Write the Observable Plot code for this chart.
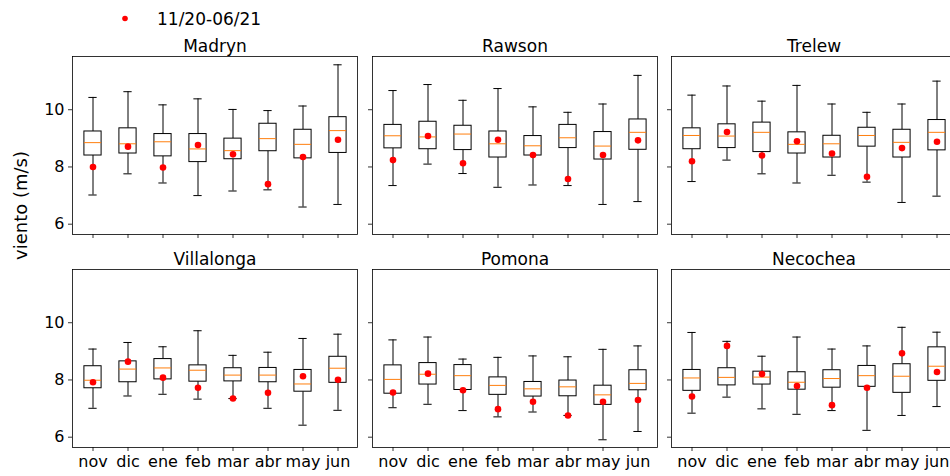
<!DOCTYPE html>
<html><head><meta charset="utf-8">
<script src="https://cdn.jsdelivr.net/npm/d3@7"></script>
<script src="https://cdn.jsdelivr.net/npm/@observablehq/plot@0.6"></script>
<style>
html,body{margin:0;padding:0;background:#fff;overflow:hidden;width:950px;height:476px;}
#root{position:relative;width:950px;height:476px;overflow:hidden;font-family:"DejaVu Sans";}
.panel{position:absolute;}
.panel svg{overflow:visible;max-width:none !important;}
</style></head><body><div id="root"></div>
<script>
const months = ["nov","dic","ene","feb","mar","abr","may","jun"];
const stations = ["Madryn","Rawson","Trelew","Villalonga","Pomona","Necochea"];
const yTicks = [6, 8, 10];
const legendLabel = "11/20-06/21";
const yLabel = "viento (m/s)";

const whiskerHigh = [
  [10.43,10.63,10.17,10.38,10.01,9.97,10.13,11.57],
  [10.67,10.88,10.33,10.74,10.10,9.91,10.20,11.20],
  [10.51,10.83,10.30,10.85,10.20,9.91,10.20,11.00],
  [9.08,9.31,9.16,9.72,8.86,8.97,9.45,9.60],
  [9.40,9.50,8.73,8.79,8.84,8.81,9.07,9.19],
  [9.66,9.35,8.83,9.50,9.08,9.19,9.84,9.67]
];
const q3 = [
  [9.24,9.35,9.15,9.15,8.99,9.51,9.30,9.74],
  [9.47,9.58,9.44,9.24,9.08,9.47,9.22,9.66],
  [9.35,9.49,9.55,9.21,9.09,9.37,9.30,9.64],
  [8.48,8.65,8.73,8.51,8.41,8.42,8.35,8.81],
  [8.51,8.59,8.52,8.09,7.93,7.98,7.80,8.34],
  [8.35,8.41,8.29,8.27,8.34,8.49,8.55,9.14]
];
const median = [
  [8.85,8.81,8.88,8.63,8.57,8.99,8.79,9.27],
  [9.09,9.05,9.15,8.81,8.74,9.02,8.73,9.21],
  [9.10,9.08,9.21,8.79,8.81,9.10,8.86,9.21],
  [7.99,8.38,8.42,8.34,8.17,8.17,7.86,8.41],
  [8.02,8.20,8.15,7.81,7.69,7.76,7.48,7.88],
  [8.07,8.09,8.10,7.92,8.05,8.15,8.13,8.48]
];
const q1 = [
  [8.40,8.47,8.37,8.17,8.27,8.55,8.30,8.49],
  [8.65,8.62,8.59,8.33,8.40,8.66,8.26,8.60],
  [8.62,8.66,8.52,8.47,8.33,8.71,8.33,8.58],
  [7.71,7.92,8.02,7.94,7.95,7.92,7.59,7.90],
  [7.52,7.84,7.65,7.48,7.42,7.43,7.13,7.64],
  [7.62,7.81,7.84,7.66,7.73,7.76,7.55,7.97]
];
const whiskerLow = [
  [7.02,7.76,7.44,7.00,7.16,7.20,6.60,6.69],
  [7.35,8.10,7.77,7.29,7.37,7.35,6.69,6.79],
  [7.49,8.24,7.76,7.44,7.71,7.47,6.76,6.98],
  [7.01,7.44,7.50,7.33,7.35,7.01,6.42,6.94],
  [7.03,7.15,6.93,6.71,6.88,6.76,5.91,6.20],
  [6.84,7.40,6.99,6.80,6.93,6.24,6.76,7.07]
];
const observed = [
  [8.00,8.71,7.98,8.77,8.44,7.40,8.35,8.95],
  [8.24,9.08,8.13,8.95,8.42,7.58,8.42,8.93],
  [8.20,9.22,8.40,8.90,8.47,7.66,8.66,8.88],
  [7.92,8.64,8.08,7.73,7.35,7.55,8.13,8.01],
  [7.56,8.22,7.64,6.98,7.24,6.76,7.24,7.30],
  [7.42,9.19,8.21,7.79,7.12,7.73,8.93,8.28]
];

const root = document.getElementById("root");
const frameW = 285, frameH = 178;
const colLeft = [72, 372, 671];
const rowTop = [56, 269];
const mL = 50, mR = 12, mT = 30, mB = 30;
const boxInset = (frameW / months.length) * 0.25;
const capInset = (frameW / months.length) * 0.375;

stations.forEach((name, s) => {
  const col = s % 3, row = Math.floor(s / 3);
  const rows = months.map((m, i) => ({
    month: m, lo: whiskerLow[s][i], q1: q1[s][i], med: median[s][i],
    q3: q3[s][i], hi: whiskerHigh[s][i], obs: observed[s][i]
  }));
  const W = frameW + mL + mR, H = frameH + mT + mB;
  const chart = Plot.plot({
    width: W, height: H,
    marginLeft: mL, marginRight: mR, marginTop: mT, marginBottom: mB,
    style: {fontFamily: "DejaVu Sans", fontSize: "16px", color: "black", background: "transparent", overflow: "visible", maxWidth: "none"},
    x: {type: "band", domain: months, padding: 0, axis: null},
    y: {domain: [5.64, 11.86], axis: null},
    marks: [
      Plot.ruleX(rows, {x: "month", y1: "q3", y2: "hi", stroke: "black", strokeWidth: 1}),
      Plot.ruleX(rows, {x: "month", y1: "lo", y2: "q1", stroke: "black", strokeWidth: 1}),
      Plot.tickY(rows, {x: "month", y: "hi", stroke: "black", insetLeft: capInset, insetRight: capInset}),
      Plot.tickY(rows, {x: "month", y: "lo", stroke: "black", insetLeft: capInset, insetRight: capInset}),
      Plot.barY(rows, {x: "month", y1: "q1", y2: "q3", fill: "white", stroke: "black", strokeWidth: 1, insetLeft: boxInset, insetRight: boxInset}),
      Plot.tickY(rows, {x: "month", y: "med", stroke: "#ff7f0e", strokeWidth: 1, insetLeft: boxInset, insetRight: boxInset}),
      Plot.dot(rows, {x: "month", y: "obs", r: 3.3, fill: "#ff0000", stroke: "none"}),
      Plot.frame({stroke: "black", strokeWidth: 0.8}),
      Plot.axisY({ticks: yTicks, label: null, tickSize: 4, tickPadding: 4, fontSize: 16, strokeWidth: 0.8,
        tickFormat: col === 0 ? (d => String(d)) : (() => "")}),
      Plot.axisX({label: null, tickSize: 4, tickPadding: 4.6, fontSize: 16, strokeWidth: 0.8,
        tickFormat: row === 1 ? (d => d) : (() => "")}),
      Plot.text([name], {frameAnchor: "top", lineAnchor: "bottom", dy: -5, fontSize: 17, text: d => d, fill: "black"})
    ]
  });
  chart.style.maxWidth = "none";
  chart.style.width = W + "px";
  chart.style.height = H + "px";
  const div = document.createElement("div");
  div.className = "panel";
  div.style.left = (colLeft[col] - mL) + "px";
  div.style.top = (rowTop[row] - mT) + "px";
  div.style.width = W + "px";
  div.style.height = H + "px";
  div.appendChild(chart);
  root.appendChild(div);
});

// legend and y label
const ns = "http://www.w3.org/2000/svg";
const over = document.createElementNS(ns, "svg");
over.setAttribute("width", 950);
over.setAttribute("height", 476);
over.style.position = "absolute";
over.style.left = "0px";
over.style.top = "0px";
over.style.pointerEvents = "none";
over.setAttribute("font-family", "DejaVu Sans");
const c = document.createElementNS(ns, "circle");
c.setAttribute("cx", 125); c.setAttribute("cy", 18.5); c.setAttribute("r", 2.8); c.setAttribute("fill", "#ff0000");
over.appendChild(c);
const lt = document.createElementNS(ns, "text");
lt.setAttribute("x", 157); lt.setAttribute("y", 25); lt.setAttribute("font-size", 17);
lt.textContent = legendLabel;
over.appendChild(lt);
const yl = document.createElementNS(ns, "text");
yl.setAttribute("transform", "translate(27,205.5) rotate(-90)");
yl.setAttribute("text-anchor", "middle");
yl.setAttribute("font-size", 18);
yl.textContent = yLabel;
over.appendChild(yl);
root.appendChild(over);
</script>
</body></html>
